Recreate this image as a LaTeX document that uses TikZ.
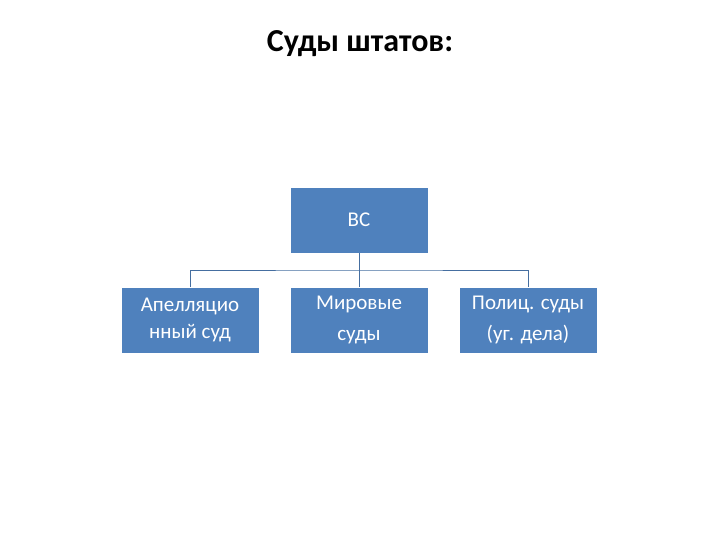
\documentclass[tikz,border=0pt]{standalone}
\usepackage{fontspec}
\setmainfont{Carlito}
\begin{document}
\begin{tikzpicture}[x=1pt,y=-1pt,
  box/.style={draw=white,line width=0.8pt,fill={rgb,255:red,79;green,129;blue,189},text=white,minimum width=138pt,minimum height=66pt,inner sep=1pt,align=center,font=\fontsize{21}{27}\selectfont},
  conn/.style={draw={rgb,255:red,69;green,110;blue,160},line width=0.8pt}]
\useasboundingbox (0,0) rectangle (720,540);
\node[font=\bfseries\fontsize{32}{38}\selectfont] (title) at (360,44) {Суды штатов:};
\node[box] (vs) at (359,220) {ВС};
\node[box] (a) at (190,320) {Апелляцио\\нный суд};
\node[box] (m) at (359,320) {Мировые\\[4pt]суды};
\node[box] (p) at (528,320) {Полиц. суды\\[4pt](уг. дела)};
\coordinate (j) at (359,270);
\draw[conn] (vs.south) -- (j);
\draw[conn] (a.north) |- (j) -| (p.north);
\draw[conn] (j) -- (m.north);
\end{tikzpicture}
\end{document}
